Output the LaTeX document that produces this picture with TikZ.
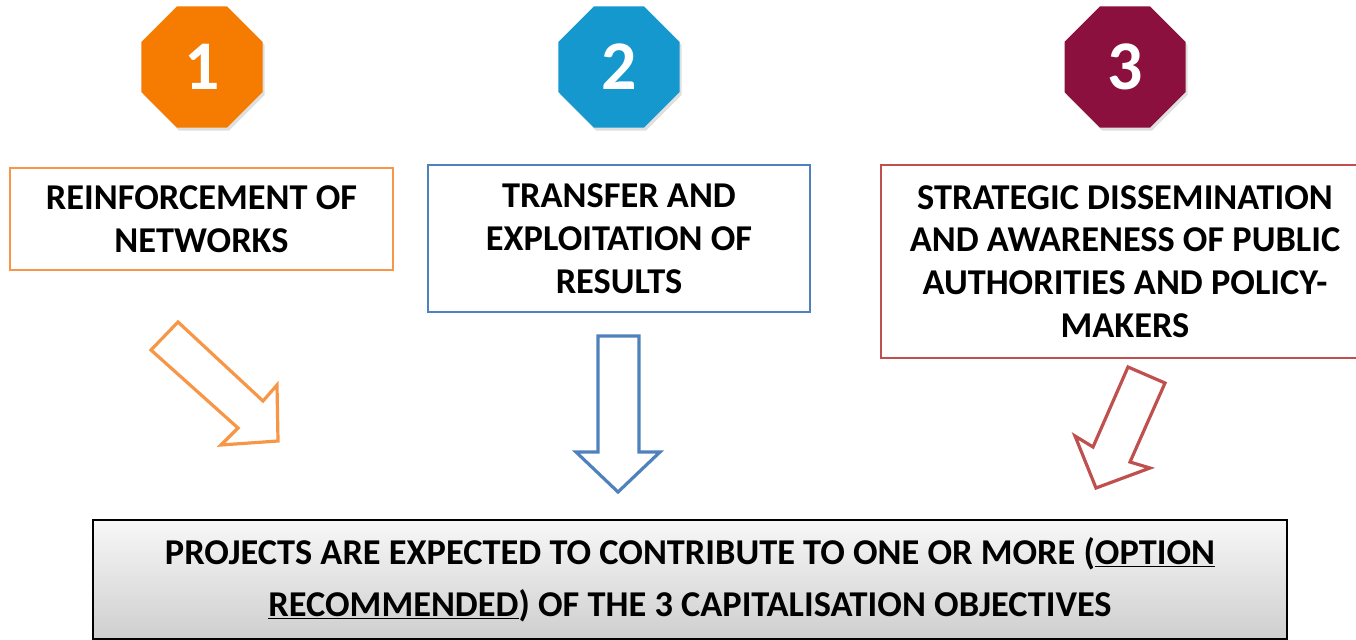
\documentclass[tikz,border=0pt]{standalone}
\usepackage{fontspec}
\setmainfont{Carlito}
\usetikzlibrary{shapes.geometric,shadows}
\definecolor{octorange}{RGB}{245,124,0}
\definecolor{octblue}{RGB}{20,152,206}
\definecolor{octred}{RGB}{139,16,62}
\definecolor{lineorange}{RGB}{247,150,70}
\definecolor{lineblue}{RGB}{79,129,189}
\definecolor{linered}{RGB}{192,80,77}
\begin{document}
\begin{tikzpicture}[x=1bp,y=-1bp,line join=miter,
  octagon/.style={regular polygon,regular polygon sides=8,minimum size=131bp,inner sep=0pt,
    text=white,font=\fontsize{70}{70}\selectfont\bfseries,
    drop shadow={opacity=0.25,shadow xshift=2bp,shadow yshift=-3bp}},
  objbox/.style={draw,line width=2.6bp,fill=white,align=center,inner sep=0pt,
    font=\fontsize{36.5}{43}\selectfont\bfseries},
  blockarrow/.style={line width=3.2bp,fill=white}]
\useasboundingbox (0,0) rectangle (1356,640);
\clip (0,0) rectangle (1356,640);
%%
  % Node: Badge 1
  \node[octagon,fill=octorange] (badge1) at (202,67) {1};
  % Node: Badge 2
  \node[octagon,fill=octblue] (badge2) at (619,67) {2};
  % Node: Badge 3
  \node[octagon,fill=octred] (badge3) at (1125,67) {3};
  % Node: Networks
  \node[objbox,draw=lineorange,minimum width=383bp,minimum height=102bp] (networks) at (201.5,219)
    {REINFORCEMENT OF\\NETWORKS};
  % Node: Results
  \node[objbox,draw=lineblue,minimum width=382bp,minimum height=147bp] (results) at (619,238.5)
    {TRANSFER AND\\EXPLOITATION OF\\RESULTS};
  % Node: Dissemination
  \node[objbox,draw=linered,minimum width=488bp,minimum height=193bp] (dissemination) at (1125,261.5)
    {STRATEGIC DISSEMINATION\\AND AWARENESS OF PUBLIC\\AUTHORITIES AND POLICY-\\MAKERS};
  % Node: Objectives
  \node[draw=black,line width=1.8bp,top color=gray!6,bottom color=gray!38,align=center,inner sep=0pt,
    minimum width=1194bp,minimum height=119bp,font=\fontsize{36.5}{52}\selectfont\bfseries]
    (objectives) at (690,579.5)
    {PROJECTS ARE EXPECTED TO CONTRIBUTE TO ONE OR MORE (\underline{OPTION}\\
     \underline{RECOMMENDED}) OF THE 3 CAPITALISATION OBJECTIVES};
  % Edge: Networks -> Objectives
  \draw[blockarrow,draw=lineorange] (178,322) -- (151,350) -- (238,428) -- (221,445)
    -- (278,441) -- (277,385) -- (263,401) -- cycle;
  % Edge: Results -> Objectives
  \draw[blockarrow,draw=lineblue] (598,336) -- (639,336) -- (639,452) -- (660,452)
    -- (618,492) -- (576,452) -- (598,452) -- cycle;
  % Edge: Dissemination -> Objectives
  \draw[blockarrow,draw=linered] (1128,367) -- (1165,383) -- (1130,462) -- (1150,468)
    -- (1096,488) -- (1075,436) -- (1093,447) -- cycle;
%
\end{tikzpicture}
\end{document}
